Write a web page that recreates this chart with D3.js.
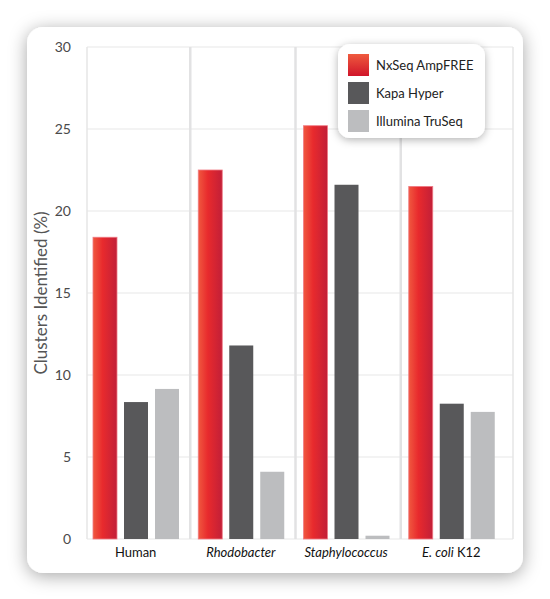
<!DOCTYPE html>
<html><head><meta charset="utf-8">
<script src="https://cdn.jsdelivr.net/npm/d3@7"></script>
<style>html,body{margin:0;padding:0;background:#fff;}svg{display:block;}</style>
</head><body>
<script>
const categories = ["Human", "Rhodobacter", "Staphylococcus", "E. coli K12"];
const seriesNames = ["NxSeq AmpFREE", "Kapa Hyper", "Illumina TruSeq"];
const nxseq = [18.4, 22.5, 25.2, 21.5];
const kapa = [8.35, 11.8, 21.6, 8.25];
const truseq = [9.15, 4.1, 0.2, 7.75];
const yTicks = [0, 5, 10, 15, 20, 25, 30];

const W = 550, H = 599;
const svg = d3.select("body").append("svg").attr("width", W).attr("height", H);
const defs = svg.append("defs");

const cardF = defs.append("filter").attr("id","cardShadow").attr("x","-20%").attr("y","-20%").attr("width","140%").attr("height","140%");
cardF.append("feDropShadow").attr("dx",0).attr("dy",3).attr("stdDeviation",9).attr("flood-color","#000").attr("flood-opacity",0.35);
const legF = defs.append("filter").attr("id","legShadow").attr("x","-30%").attr("y","-30%").attr("width","160%").attr("height","160%");
legF.append("feDropShadow").attr("dx",0).attr("dy",2).attr("stdDeviation",4).attr("flood-color","#000").attr("flood-opacity",0.3);

const redG = defs.append("linearGradient").attr("id","redGrad").attr("x1","0").attr("x2","1").attr("y1","0").attr("y2","0");
redG.append("stop").attr("offset","0%").attr("stop-color","#f0583f");
redG.append("stop").attr("offset","40%").attr("stop-color","#e82a2d");
redG.append("stop").attr("offset","100%").attr("stop-color","#c21f38");
const redGV = defs.append("linearGradient").attr("id","redGradV").attr("x1","0").attr("x2","0").attr("y1","0").attr("y2","1");
redGV.append("stop").attr("offset","0%").attr("stop-color","#ef5a3e");
redGV.append("stop").attr("offset","100%").attr("stop-color","#d0152a");

const colors = ["url(#redGrad)", "#58585a", "#bcbdbf"];
const legendColors = ["url(#redGradV)", "#58585a", "#bcbdbf"];

// card
svg.append("rect").attr("x",27).attr("y",27).attr("width",496).attr("height",546)
  .attr("rx",16).attr("fill","#fff").attr("filter","url(#cardShadow)");

const frame = {l:87, r:513, t:47, b:539};
const y = d3.scaleLinear().domain([0,30]).range([539,47]);
const x = d3.scaleBand().domain(categories).range([83,504]).padding(0);
const xi = d3.scaleBand().domain(seriesNames).range([10,96]).paddingInner(7/31).paddingOuter(0);

// gridlines
svg.append("g").selectAll("line").data(yTicks).join("line")
  .attr("x1",frame.l).attr("x2",frame.r).attr("y1",d=>y(d)).attr("y2",d=>y(d))
  .attr("stroke","#e8e8e8").attr("stroke-width",1.2);
// frame left/right
svg.append("line").attr("x1",frame.l).attr("x2",frame.l).attr("y1",frame.t).attr("y2",frame.b).attr("stroke","#e6e6e6").attr("stroke-width",1.5);
svg.append("line").attr("x1",frame.r).attr("x2",frame.r).attr("y1",frame.t).attr("y2",frame.b).attr("stroke","#e6e6e6").attr("stroke-width",1.5);
// separators
svg.append("g").selectAll("line").data(categories.slice(1)).join("line")
  .attr("x1",d=>x(d)+2).attr("x2",d=>x(d)+2).attr("y1",frame.t).attr("y2",frame.b)
  .attr("stroke","#e2e2e3").attr("stroke-width",2.5);

// y axis labels
const yAxis = d3.axisLeft(y).tickValues(yTicks).tickSize(0).tickPadding(0);
const ya = svg.append("g").attr("transform","translate(71,0)").call(yAxis);
ya.select(".domain").remove();
ya.selectAll("text").attr("font-family","Lato, 'Open Sans', sans-serif").attr("font-size",14).attr("fill","#4a4a4a");

// y title
svg.append("text").attr("transform","translate(47,293) rotate(-90)").attr("text-anchor","middle")
  .attr("font-family","Lato, 'Open Sans', sans-serif").attr("font-size",17).attr("fill","#555")
  .text("Clusters Identified (%)");

// bars
const seriesVals = [nxseq, kapa, truseq];
seriesNames.forEach((s, si) => {
  svg.append("g").selectAll("rect").data(categories).join("rect")
    .attr("x", d => x(d) + xi(s))
    .attr("width", xi.bandwidth())
    .attr("y", (d,i) => y(seriesVals[si][i]))
    .attr("height", (d,i) => y(0) - y(seriesVals[si][i]))
    .attr("fill", colors[si])
    .attr("stroke", si===0 ? "#f07a84" : "none").attr("stroke-width", si===0 ? 0.8 : 0);
});

// x axis labels
const xAxis = d3.axisBottom(x).tickSize(0).tickPadding(0);
const xa = svg.append("g").attr("transform","translate(0,548)").call(xAxis);
xa.select(".domain").remove();
xa.selectAll("text").attr("font-family","Lato, 'Open Sans', sans-serif").attr("font-size",13).attr("fill","#111")
  .attr("dy","0.71em")
  .each(function(d){
    const t = d3.select(this);
    t.text(null);
    if (d === "Human") t.append("tspan").text(d);
    else if (d === "E. coli K12") { t.append("tspan").attr("font-style","italic").text("E. coli"); t.append("tspan").text(" K12"); }
    else t.append("tspan").attr("font-style","italic").text(d);
  });

// legend
const lg = svg.append("g").attr("transform","translate(338,44)");
lg.append("rect").attr("width",147).attr("height",94).attr("rx",12).attr("fill","#fff").attr("filter","url(#legShadow)");
const li = lg.selectAll("g").data(seriesNames).join("g").attr("transform",(d,i)=>`translate(10,${10+i*28})`);
li.append("rect").attr("width",21).attr("height",22).attr("fill",(d,i)=>legendColors[i]);
li.append("text").attr("x",28).attr("y",11).attr("dy","0.35em")
  .attr("font-family","Lato, 'Open Sans', sans-serif").attr("font-size",13).attr("fill","#222").text(d=>d);
</script>
</body></html>
